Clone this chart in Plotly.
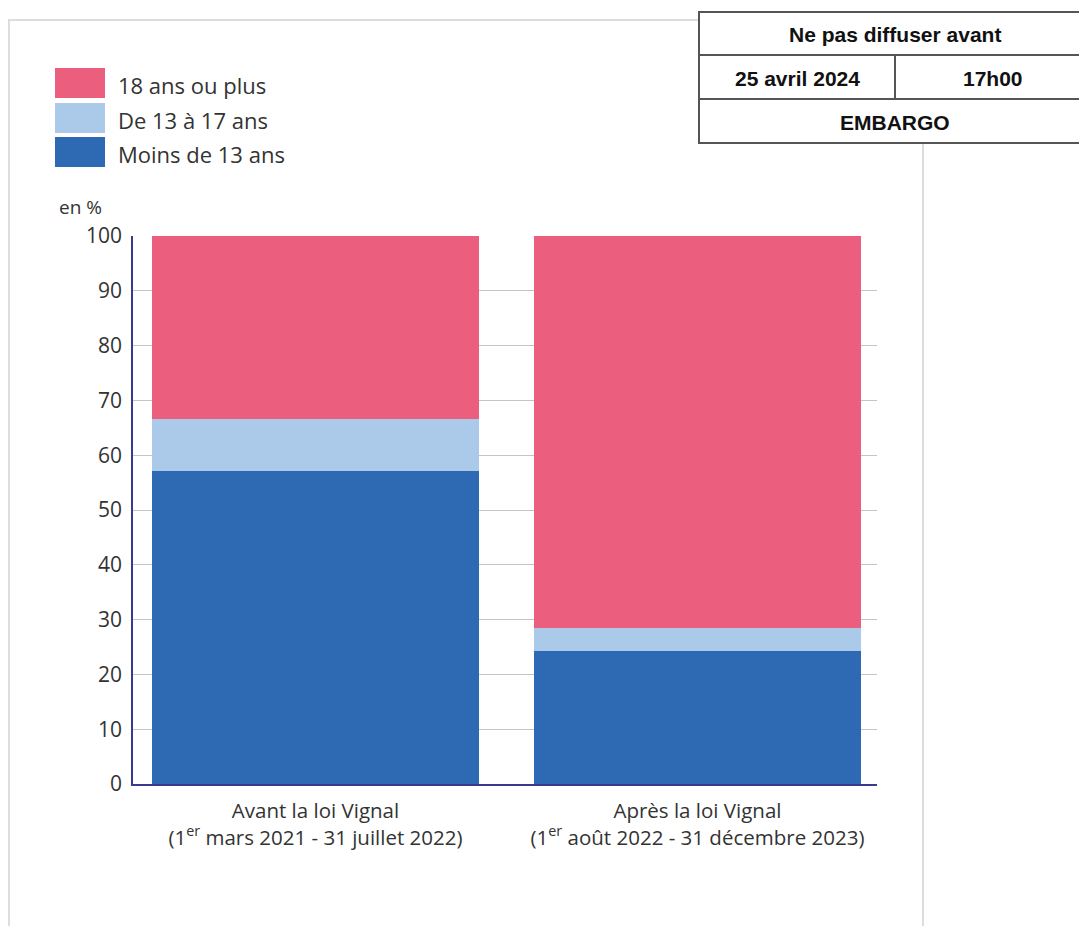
import plotly.graph_objects as go

categories = ["Avant la loi Vignal<br>(1<sup>er</sup> mars 2021 - 31 juillet 2022)",
              "Après la loi Vignal<br>(1<sup>er</sup> août 2022 - 31 décembre 2023)"]
series_names = ["Moins de 13 ans", "De 13 à 17 ans", "18 ans ou plus"]
moins_13 = [57.1, 24.3]
de_13_17 = [9.5, 4.2]
plus_18 = [33.4, 71.5]
series_values = [moins_13, de_13_17, plus_18]
colors = ["#2E69B3", "#ABC9E8", "#EB5E7D"]
y_ticks = list(range(0, 101, 10))

W, H = 1079, 926
L, R, T, B = 133, 877, 236, 784

def px(x):
    return (x - L) / (R - L)

def py(y):
    return (B - y) / (B - T)

fig = go.Figure()
for name, vals, col in zip(series_names, series_values, colors):
    fig.add_trace(go.Bar(x=categories, y=vals, name=name, marker=dict(color=col, line=dict(width=0)),
                         width=0.856, showlegend=False))

shapes = []
annotations = []
font = "Open Sans, Noto Sans, sans-serif"

# outer light frame
shapes.append(dict(type="rect", xref="paper", yref="paper", x0=px(9), x1=px(923), y0=py(940), y1=py(20),
                   line=dict(color="#dddddd", width=2), fillcolor="rgba(0,0,0,0)", layer="below"))

# custom legend (top to bottom: 18+, 13-17, <13)
leg_y = [68, 103, 137]
for i, idx in enumerate([2, 1, 0]):
    y0 = leg_y[i]
    shapes.append(dict(type="rect", xref="paper", yref="paper", x0=px(55), x1=px(105), y0=py(y0 + 30), y1=py(y0),
                       fillcolor=colors[idx], line=dict(width=0)))
    annotations.append(dict(xref="paper", yref="paper", x=px(116), y=py(y0 + 17), text=series_names[idx],
                            showarrow=False, xanchor="left", yanchor="middle",
                            font=dict(family=font, size=22, color="#333333")))

annotations.append(dict(xref="paper", yref="paper", x=px(57), y=py(207), text="en %", showarrow=False,
                        xanchor="left", yanchor="middle", font=dict(family=font, size=19, color="#333333")))

# embargo table
tl, tr, tt, tb = 699, 1090, 12, 143
shapes.append(dict(type="rect", xref="paper", yref="paper", x0=px(tl), x1=px(tr), y0=py(tb), y1=py(tt),
                   fillcolor="white", line=dict(color="#555555", width=2), layer="above"))
for yy in [55, 99]:
    shapes.append(dict(type="line", xref="paper", yref="paper", x0=px(tl), x1=px(tr), y0=py(yy), y1=py(yy),
                       line=dict(color="#555555", width=2), layer="above"))
shapes.append(dict(type="line", xref="paper", yref="paper", x0=px(895), x1=px(895), y0=py(55), y1=py(99),
                   line=dict(color="#555555", width=2), layer="above"))
tfont = dict(family="Liberation Sans, Arial, sans-serif", size=21, color="#111111")
for txt, cx, cy in [("<b>Ne pas diffuser avant</b>", 895, 34), ("<b>25 avril 2024</b>", 797, 78),
                    ("<b>17h00</b>", 993, 78), ("<b>EMBARGO</b>", 895, 122)]:
    annotations.append(dict(xref="paper", yref="paper", x=px(cx), y=py(cy), text=txt, showarrow=False,
                            xanchor="center", yanchor="middle", font=tfont))

fig.update_layout(
    barmode="stack",
    width=W, height=H,
    margin=dict(l=L, r=W - R, t=T, b=H - B, pad=0),
    paper_bgcolor="white", plot_bgcolor="white",
    shapes=shapes, annotations=annotations,
    xaxis=dict(range=[-0.4777, 1.47], showline=True, linecolor="#3a3a8c", linewidth=1.5,
               tickfont=dict(family=font, size=20.5, color="#333333"), ticks="", ticklabelstandoff=8,
               showgrid=False, fixedrange=True),
    yaxis=dict(range=[0, 100], tickvals=y_ticks, showline=True, linecolor="#3a3a8c", linewidth=1.5,
               gridcolor="#c4c4c4", gridwidth=1.2, ticks="", ticklabelstandoff=5,
               tickfont=dict(family=font, size=21, color="#333333"), zeroline=False, fixedrange=True),
    showlegend=False,
)

fig.write_html("out.html")
